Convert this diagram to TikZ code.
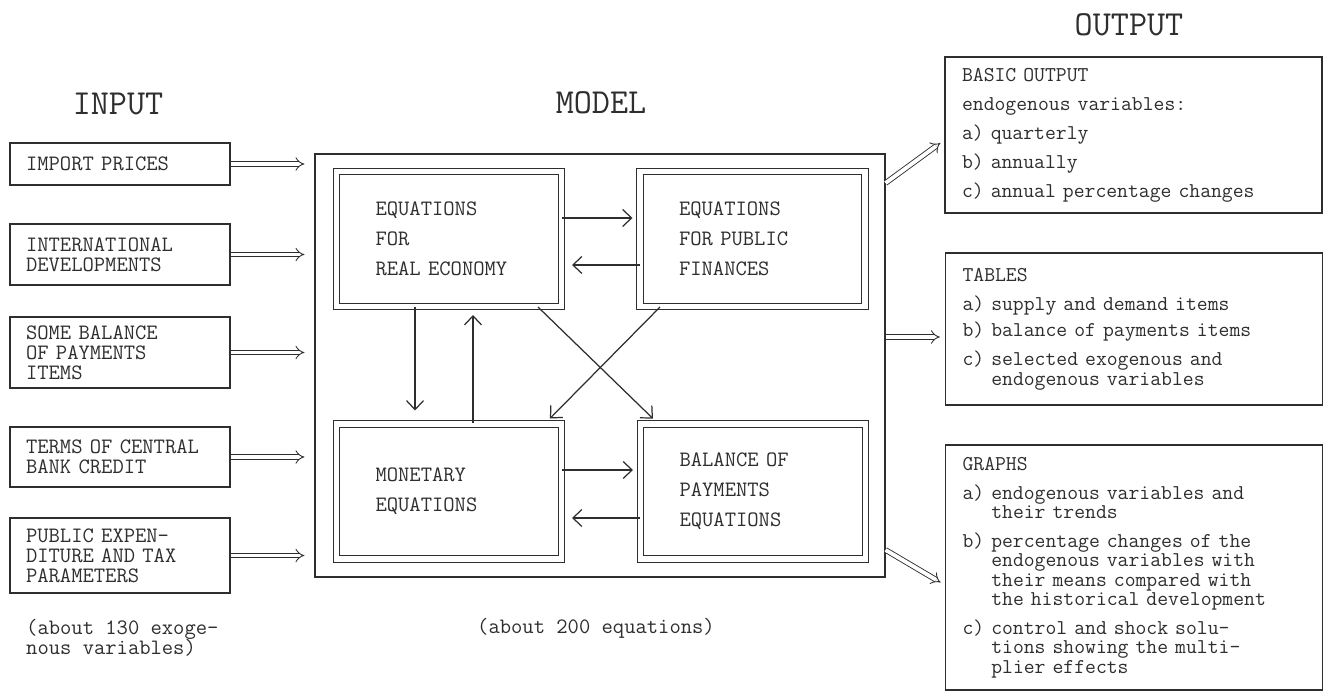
\documentclass[tikz,border=0pt]{standalone}
\usepackage{fontspec}
\usepackage{tikz}
\usetikzlibrary{positioning,arrows.meta}
\usepackage{xcolor}
\definecolor{ink}{HTML}{2E2E2E}
\newcommand\tightlines{\lineskiplimit-20pt\relax}

\begin{document}
\begin{tikzpicture}[x=0.02cm,y=-0.02cm,
  title/.style={font=\ttfamily\fontsize{20}{22}\selectfont},
  inbox/.style={draw,line width=0.7pt,minimum width=4.4cm,text width=3.76cm,inner xsep=0.32cm,align=left,font=\ttfamily\fontsize{12.5}{11.5}\selectfont\tightlines},
  eqbox/.style={draw,line width=0.6pt,double,double distance=3pt,minimum width=4.5cm,minimum height=2.7cm,text width=2.94cm,inner xsep=0.78cm,align=left,font=\ttfamily\fontsize{12.5}{17}\selectfont},
  outbox/.style={draw,line width=0.7pt,minimum width=7.54cm,text width=6.86cm,inner xsep=0.34cm,align=left,font=\ttfamily\fontsize{12}{11}\selectfont\tightlines},
  note/.style={align=left,font=\ttfamily\fontsize{12.5}{11.5}\selectfont\tightlines},
  sarrow/.style={line width=0.7pt,-{Straight Barb[length=1.8mm,width=3.4mm]}},
  darrow/.style={line width=0.5pt,double,double distance=2.2pt,-{Implies}}]
\color{ink}
\fill[white] (0,0) rectangle (1329,695);
\useasboundingbox (0,0) rectangle (1329,695);
% INPUT: exogenous blocks on the left
\node[title] (intitle) at (118,104) {INPUT};
\node[inbox,minimum height=0.84cm] (inprices) at (120,164) {IMPORT PRICES};
\node[inbox,minimum height=1.22cm] (indev) at (120,254.5) {INTERNATIONAL\\DEVELOPMENTS};
\node[inbox,minimum height=1.42cm] (inbop) at (120,352.5) {SOME BALANCE\\OF PAYMENTS\\ITEMS};
\node[inbox,minimum height=1.2cm] (incredit) at (120,457) {TERMS OF CENTRAL\\BANK CREDIT};
\node[inbox,minimum height=1.5cm] (intax) at (120,555.5) {PUBLIC EXPEN-\\DITURE AND TAX\\PARAMETERS};
\node[note,anchor=west] (exonote) at (20,638) {(about 130 exoge-\\nous variables)};
% MODEL: outer frame with the four equation blocks
\node[title] (modtitle) at (601,103) {MODEL};
\node[draw,line width=0.7pt,minimum width=11.4cm,minimum height=8.46cm] (model) at (600,365.5) {};
\node[eqbox] (real) at (449,239) {EQUATIONS\\FOR\\REAL ECONOMY};
\node[eqbox] (pubfin) at (752.5,239) {EQUATIONS\\FOR PUBLIC\\FINANCES};
\node[eqbox] (monetary) at (449,491.5) {MONETARY\\EQUATIONS};
\node[eqbox] (bopeq) at (753,491.5) {BALANCE OF\\PAYMENTS\\EQUATIONS};
\node[note] (eqnote) at (596,628) {(about 200 equations)};
% OUTPUT: result blocks on the right
\node[title] (outtitle) at (1129,25) {OUTPUT};
\node[outbox,minimum height=3.12cm] (basic) at (1133.5,135) {BASIC OUTPUT\\[5.5pt]endogenous variables:\\[5.5pt]a) quarterly\\[5.5pt]b) annually\\[5.5pt]c) annual percentage changes};
\node[outbox,minimum height=3.04cm] (tables) at (1134,329) {TABLES\\[5.5pt]a) supply and demand items\\[4pt]b) balance of payments items\\[5.5pt]c) selected exogenous and\\\phantom{c) }endogenous variables};
\node[outbox,minimum height=4.9cm] (graphs) at (1134,567.5) {GRAPHS\\[5.5pt]a) endogenous variables and\\\phantom{a) }their trends\\[5.5pt]b) percentage changes of the\\\phantom{b) }endogenous variables with\\\phantom{b) }their means compared with\\\phantom{b) }the historical development\\[5.5pt]c) control and shock solu-\\\phantom{c) }tions showing the multi-\\\phantom{c) }plier effects};
% inputs feed the model
\draw[darrow,shorten >=0.2cm] (inprices.east) -- (inprices.east -| model.west);
\draw[darrow,shorten >=0.2cm] (indev.east) -- (indev.east -| model.west);
\draw[darrow,shorten >=0.2cm] (inbop.east) -- (inbop.east -| model.west);
\draw[darrow,shorten >=0.2cm] (incredit.east) -- (incredit.east -| model.west);
\draw[darrow,shorten >=0.2cm] (intax.east) -- (intax.east -| model.west);
% links between the equation blocks
\draw[sarrow,shorten >=0.14cm] ([yshift=0.42cm]real.east) -- ([yshift=0.42cm]real.east -| pubfin.west);
\draw[sarrow,shorten >=0.2cm] ([yshift=-0.52cm]pubfin.west) -- ([yshift=-0.52cm]pubfin.west -| real.east);
\draw[sarrow,shorten >=0.14cm] ([yshift=0.43cm]monetary.east) -- ([yshift=0.43cm]monetary.east -| bopeq.west);
\draw[sarrow,shorten >=0.2cm] ([yshift=-0.53cm]bopeq.west) -- ([yshift=-0.53cm]bopeq.west -| monetary.east);
\draw[sarrow,shorten >=0.26cm] ([xshift=-0.68cm]real.south) -- ([xshift=-0.68cm]monetary.north);
\draw[sarrow,shorten >=0.16cm] ([xshift=0.48cm]monetary.north) -- ([xshift=0.48cm]real.south);
\draw[sarrow,shorten >=0.14cm] ([xshift=1.78cm]real.south) -- ([xshift=-1.9cm]bopeq.north);
\draw[sarrow,shorten >=0.14cm] ([xshift=-1.85cm]pubfin.south) -- ([xshift=1.92cm]monetary.north);
% model to outputs
\draw[darrow,shorten >=0.1cm] ([yshift=3.65cm]model.east) -- ([yshift=-0.1cm]basic.west);
\draw[darrow,shorten >=0.1cm] ([yshift=-0.16cm]tables.west -| model.east) -- ([yshift=-0.16cm]tables.west);
\draw[darrow,shorten >=0.1cm] ([yshift=-3.69cm]model.east) -- ([yshift=-0.35cm]graphs.west);
\end{tikzpicture}
\end{document}
